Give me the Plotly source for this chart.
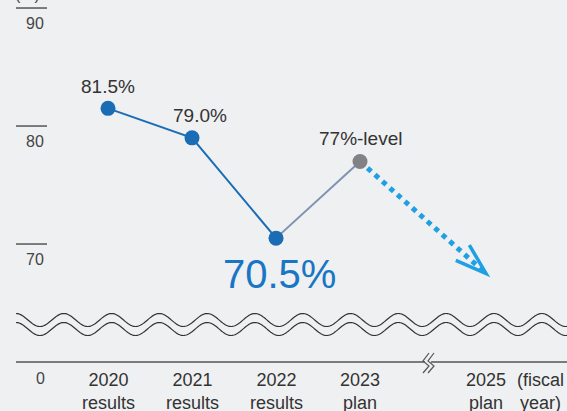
import numpy as np
import plotly.graph_objects as go

# ---- data -------------------------------------------------------------
years = ["2020", "2021", "2022", "2023", "2025"]
kinds = ["results", "results", "results", "plan", "plan"]
result_values = [81.5, 79.0, 70.5]          # FY2020-2022 results
plan_2023 = 77.0                             # FY2023 plan
target_2025 = 67.5                           # FY2025 plan direction
value_labels = ["81.5%", "79.0%", "70.5%", "77%-level"]
y_ticks = [90, 80, 70]

# ---- layout constants -------------------------------------------------
W, H = 567, 411
BG = "#eff0f2"
BLUE = "#1a6db4"
GRAY = "#808285"
CYAN = "#1ea0e3"
TEXT = "#333333"
AXIS = "#555555"
FONT = "Liberation Sans, Arial, Helvetica, sans-serif"

X_RANGE = [-1.286, 5.464]
Y_RANGE = [55.85, 90.68]
px_per_x = W / (X_RANGE[1] - X_RANGE[0])
px_per_y = H / (Y_RANGE[1] - Y_RANGE[0])


def xpos(year):
    # years after the axis break are compressed to half a slot
    i = int(year) - 2020
    return i if i <= 3 else i - 0.5


xs = [xpos(y) for y in years]


def px(x):
    return x / W


def py(y):
    return 1 - y / H


fig = go.Figure()

# results line
fig.add_trace(go.Scatter(x=xs[:3], y=result_values, mode="lines",
                         line=dict(color=BLUE, width=2), hoverinfo="skip"))
# towards the 2023 plan
fig.add_trace(go.Scatter(x=[xs[2], xs[3]], y=[result_values[2], plan_2023],
                         mode="lines", line=dict(color="#7d93b0", width=2),
                         hoverinfo="skip"))
# dotted trend to 2025
fig.add_trace(go.Scatter(x=[xs[3], xs[4]], y=[plan_2023, target_2025],
                         mode="lines", line=dict(color=CYAN, width=5, dash="5px,5px"),
                         hoverinfo="skip"))
# markers
fig.add_trace(go.Scatter(x=xs[:3], y=result_values, mode="markers",
                         marker=dict(color=BLUE, size=15), hoverinfo="skip"))
fig.add_trace(go.Scatter(x=[xs[3]], y=[plan_2023], mode="markers",
                         marker=dict(color=GRAY, size=15), hoverinfo="skip"))

shapes = []

# open arrow head at the end of the trend
tip_x, tip_y = xs[4], target_2025
dx_px = (xs[4] - xs[3]) * px_per_x
dy_px = -(target_2025 - plan_2023) * px_per_y
back = np.arctan2(-dy_px, -dx_px)
arm_len, spread = 33, np.radians(18)
arms = []
for s in (-spread, spread):
    a = back + s
    arms.append((tip_x + arm_len * np.cos(a) / px_per_x,
                 tip_y - arm_len * np.sin(a) / px_per_y))
shapes.append(dict(type="path", xref="x", yref="y",
                   path=f"M {arms[0][0]},{arms[0][1]} L {tip_x},{tip_y} L {arms[1][0]},{arms[1][1]}",
                   line=dict(color=CYAN, width=3.5)))

# short tick lines of the value axis
for t in y_ticks:
    shapes.append(dict(type="line", xref="paper", yref="y",
                       x0=px(16), x1=px(47), y0=t, y1=t,
                       line=dict(color=AXIS, width=1.5)))

# baseline
base_px = 362
shapes.append(dict(type="line", xref="paper", yref="paper",
                   x0=px(16), x1=1, y0=py(base_px), y1=py(base_px),
                   line=dict(color=AXIS, width=1.5)))

# wavy double line marking the broken value axis
period, amp = 47.8, 6.5
wx = np.linspace(16, W, 600)
for centre in (320, 329):
    wy = centre - amp * np.cos(2 * np.pi * (wx - 16) / period)
    path = "M " + " L ".join(f"{px(a):.5f},{py(b):.5f}" for a, b in zip(wx, wy))
    shapes.append(dict(type="path", xref="paper", yref="paper", path=path,
                       line=dict(color="#333333", width=1.2)))

# break mark on the category axis
shapes.append(dict(type="rect", xref="paper", yref="paper",
                   x0=px(425), x1=px(431), y0=py(364), y1=py(360),
                   fillcolor=BG, line=dict(width=0)))
for off in (0, 5):
    pts = [(429 + off, 353), (423 + off, 361), (429 + off, 366), (423 + off, 373)]
    path = "M " + " L ".join(f"{px(a):.5f},{py(b):.5f}" for a, b in pts)
    shapes.append(dict(type="path", xref="paper", yref="paper", path=path,
                       line=dict(color=AXIS, width=1.2)))

annotations = []


def note(**kw):
    kw.setdefault("showarrow", False)
    kw.setdefault("xanchor", "center")
    kw.setdefault("yanchor", "middle")
    annotations.append(kw)


# value labels
label_pts = [(xs[0], result_values[0], 0, 22),
             (xs[1], result_values[1], 8, 22),
             (xs[3], plan_2023, 0, 23)]
for (x, y, sx, sy), txt in zip(label_pts, [value_labels[0], value_labels[1], value_labels[3]]):
    note(x=x, y=y, xref="x", yref="y", text=txt, xshift=sx, yshift=sy,
         font=dict(family=FONT, size=19, color=TEXT))
note(x=xs[2], y=result_values[2], xref="x", yref="y", text=value_labels[2],
     xshift=3, yshift=-36, font=dict(family=FONT, size=40, color="#1a75c4"))

# value axis labels
for t in y_ticks:
    note(x=px(46), y=t, xref="paper", yref="y", text=str(t), xanchor="right",
         yshift=-15, font=dict(family=FONT, size=16, color="#444444"))
note(x=px(40), y=py(378), xref="paper", yref="paper", text="0",
     font=dict(family=FONT, size=16, color="#444444"))
note(x=px(27), y=1, xref="paper", yref="paper", text="(%)", yanchor="bottom",
     yshift=-5, font=dict(family=FONT, size=16, color="#444444"))

# category labels
for x, yr, k in zip(xs, years, kinds):
    note(x=x, y=py(391), xref="x", yref="paper", text=f"{yr}<br>{k}",
         font=dict(family=FONT, size=18, color=TEXT))
note(x=px(540), y=py(391), xref="paper", yref="paper", text="(fiscal<br>year)",
     font=dict(family=FONT, size=18, color=TEXT))

fig.update_layout(
    width=W, height=H,
    margin=dict(l=0, r=0, t=0, b=0),
    paper_bgcolor=BG, plot_bgcolor=BG,
    showlegend=False,
    xaxis=dict(range=X_RANGE, visible=False, fixedrange=True),
    yaxis=dict(range=Y_RANGE, visible=False, fixedrange=True),
    shapes=shapes,
    annotations=annotations,
)

fig.write_html("out.html", config={"displayModeBar": False})
